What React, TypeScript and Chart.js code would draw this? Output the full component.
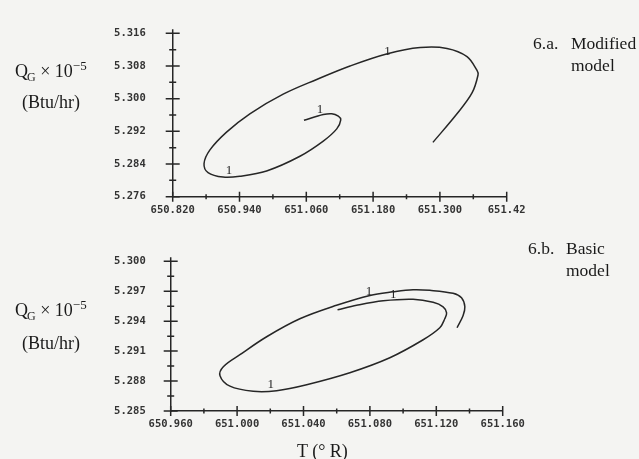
import React, { useEffect, useRef } from 'react';
import { Chart, registerables } from 'chart.js';

Chart.register(...registerables);

// ---------- 6.a. Modified model ----------
const topT = [
  651.2875, 651.3307, 651.3577, 651.3685, 651.3667, 651.3487, 651.3127, 651.2646,
  651.2057, 651.1386, 651.0787, 651.0185, 650.9586, 650.9167, 650.8866, 650.8763,
  650.8835, 650.9105, 650.9406, 650.9887, 651.0486, 651.0905, 651.1147, 651.1219,
  651.1175, 651.1057, 651.0905, 651.0558,
];
const topQ = [
  5.2893, 5.2963, 5.3014, 5.3058, 5.3069, 5.3103, 5.3123, 5.3125,
  5.3110, 5.3080, 5.3047, 5.3011, 5.2963, 5.2918, 5.2874, 5.2841,
  5.2819, 5.2808, 5.2810, 5.2823, 5.2859, 5.2896, 5.2926, 5.2948,
  5.2957, 5.2963, 5.2961, 5.2947,
];
const topMarkT = [651.2057, 651.0846, 650.9213];
const topMarkQ = [5.3116, 5.2974, 5.2824];
const topMarkText = ['1', '1', '1'];

const topXTicks = [650.82, 650.88, 650.94, 651.0, 651.06, 651.12, 651.18, 651.24, 651.3, 651.36, 651.42];
const topXLabels = ['650.820', '', '650.940', '', '651.060', '', '651.180', '', '651.300', '', '651.42'];
const topYTicks = [5.276, 5.28, 5.284, 5.288, 5.292, 5.296, 5.3, 5.304, 5.308, 5.312, 5.316];
const topYLabels = ['5.276', '', '5.284', '', '5.292', '', '5.300', '', '5.308', '', '5.316'];

// ---------- 6.b. Basic model ----------
const botT = [
  651.1325, 651.1361, 651.1372, 651.1352, 651.1301, 651.1161, 651.1060, 651.0940,
  651.0800, 651.0599, 651.0378, 651.0178, 651.0017, 650.9917, 650.9897, 650.9957,
  651.0097, 651.0238, 651.0419, 651.0679, 651.0920, 651.1121, 651.1221, 651.1251,
  651.1262, 651.1241, 651.1181, 651.1060, 651.0880, 651.0720, 651.0605,
];
const botQ = [
  5.29334, 5.29454, 5.29544, 5.29634, 5.29679, 5.29709, 5.29715, 5.29694,
  5.29658, 5.29559, 5.29424, 5.29244, 5.29064, 5.28944, 5.28854, 5.28749,
  5.28698, 5.28704, 5.28764, 5.28884, 5.29034, 5.29214, 5.29334, 5.29424,
  5.29484, 5.29544, 5.29589, 5.29619, 5.29604, 5.29559, 5.29514,
];
const botMarkT = [651.0794, 651.094, 651.0202];
const botMarkQ = [5.2970, 5.2967, 5.28764];
const botMarkText = ['1', '1', '1'];

const botXTicks = [650.96, 650.98, 651.0, 651.02, 651.04, 651.06, 651.08, 651.1, 651.12, 651.14, 651.16];
const botXLabels = ['650.960', '', '651.000', '', '651.040', '', '651.080', '', '651.120', '', '651.160'];
const botYTicks = [5.285, 5.2865, 5.288, 5.2895, 5.291, 5.2925, 5.294, 5.2955, 5.297, 5.2985, 5.3];
const botYLabels = ['5.285', '', '5.288', '', '5.291', '', '5.294', '', '5.297', '', '5.300'];

const INK = '#262626';
const BG = '#f4f4f2';

const crossTicksPlugin = {
  id: 'crossTicks',
  afterDraw(chart: any) {
    const { ctx, chartArea } = chart;
    const xs = chart.scales.x;
    const ys = chart.scales.y;
    ctx.save();
    ctx.strokeStyle = INK;
    ctx.lineWidth = 1.5;
    ctx.beginPath();
    xs.ticks.forEach((t: any, i: number) => {
      const p = xs.getPixelForTick(i);
      const L = t.label ? 5 : 2.5;
      ctx.moveTo(p, chartArea.bottom - L);
      ctx.lineTo(p, chartArea.bottom + L);
    });
    ys.ticks.forEach((t: any, i: number) => {
      const p = ys.getPixelForTick(i);
      const L = t.label ? 7 : 3.5;
      ctx.moveTo(chartArea.left - L, p);
      ctx.lineTo(chartArea.left + L, p);
    });
    // small overshoot of the value axis above its last tick
    ctx.moveTo(chartArea.left, chartArea.top);
    ctx.lineTo(chartArea.left, chartArea.top - 4);
    ctx.stroke();
    ctx.restore();
  },
};

const curveMarksPlugin = {
  id: 'curveMarks',
  afterDatasetsDraw(chart: any, _args: any, opts: any) {
    const { ctx } = chart;
    const xs = chart.scales.x;
    const ys = chart.scales.y;
    ctx.save();
    ctx.font = '13px "Liberation Serif"';
    ctx.fillStyle = INK;
    ctx.textAlign = 'center';
    ctx.textBaseline = 'middle';
    (opts.xs || []).forEach((v: number, i: number) => {
      ctx.fillText(opts.text[i], xs.getPixelForValue(v), ys.getPixelForValue(opts.ys[i]));
    });
    ctx.restore();
  },
};

function makeConfig(p: any) {
  const tickFont = { family: '"DejaVu Sans Mono"', size: 10.5, weight: 'bold' };
  return {
    type: 'scatter',
    data: {
      datasets: [
        {
          data: p.T.map((x: number, i: number) => ({ x, y: p.Q[i] })),
          showLine: true,
          borderColor: INK,
          borderWidth: 1.5,
          pointRadius: 0,
          tension: 0.35,
          fill: false,
        },
      ],
    },
    options: {
      animation: false,
      responsive: false,
      devicePixelRatio: 1,
      events: [],
      layout: { padding: p.padding },
      plugins: {
        legend: { display: false },
        tooltip: { enabled: false },
        curveMarks: { xs: p.markT, ys: p.markQ, text: p.markText },
      },
      scales: {
        x: {
          type: 'linear',
          min: p.xTicks[0],
          max: p.xTicks[p.xTicks.length - 1],
          afterBuildTicks: (s: any) => {
            s.ticks = p.xTicks.map((v: number) => ({ value: v }));
          },
          afterFit: (s: any) => {
            s.height = 20;
          },
          grid: { display: true, drawOnChartArea: false, drawTicks: false },
          border: { display: true, color: INK, width: 1.5 },
          ticks: {
            autoSkip: false,
            maxRotation: 0,
            padding: 7,
            color: '#333333',
            font: tickFont,
            callback: (_v: any, i: number) => p.xLabels[i],
          },
        },
        y: {
          type: 'linear',
          min: p.yTicks[0],
          max: p.yTicks[p.yTicks.length - 1],
          afterBuildTicks: (s: any) => {
            s.ticks = p.yTicks.map((v: number) => ({ value: v }));
          },
          afterFit: (s: any) => {
            s.width = 60;
          },
          grid: { display: true, drawOnChartArea: false, drawTicks: false },
          border: { display: true, color: INK, width: 1.5 },
          ticks: {
            autoSkip: false,
            padding: p.yPad,
            color: '#333333',
            font: tickFont,
            callback: (_v: any, i: number) => p.yLabels[i],
          },
        },
      },
    },
    plugins: [crossTicksPlugin, curveMarksPlugin],
  } as any;
}

const serif = '"Liberation Serif", "Times New Roman", serif';
const textStyle: any = { position: 'absolute', fontFamily: serif, fontSize: 18, color: '#1a1a1a', lineHeight: '22px', whiteSpace: 'nowrap' };

function YTitle({ top, gap }: { top: number; gap: number }) {
  return (
    <>
      <div style={{ ...textStyle, left: 15, top }}>
        Q<span style={{ fontSize: 12, position: 'relative', top: 4, marginLeft: -1 }}>G</span> × 10
        <span style={{ fontSize: 13, position: 'relative', top: -7 }}>−5</span>
      </div>
      <div style={{ ...textStyle, left: 22, top: top + gap }}>(Btu/hr)</div>
    </>
  );
}

export default function App() {
  const topRef = useRef<HTMLCanvasElement>(null);
  const botRef = useRef<HTMLCanvasElement>(null);

  useEffect(() => {
    const top = new Chart(
      topRef.current as HTMLCanvasElement,
      makeConfig({
        T: topT, Q: topQ, markT: topMarkT, markQ: topMarkQ, markText: topMarkText,
        xTicks: topXTicks, xLabels: topXLabels, yTicks: topYTicks, yLabels: topYLabels,
        padding: { left: 112.7, right: 132.3, top: 20.7, bottom: 8.3 },
        yPad: 27,
      })
    );
    const bot = new Chart(
      botRef.current as HTMLCanvasElement,
      makeConfig({
        T: botT, Q: botQ, markT: botMarkT, markQ: botMarkQ, markText: botMarkText,
        xTicks: botXTicks, xLabels: botXLabels, yTicks: botYTicks, yLabels: botYLabels,
        padding: { left: 110.7, right: 136.3, top: 14.3, bottom: 28 },
        yPad: 25,
      })
    );
    return () => {
      top.destroy();
      bot.destroy();
    };
  }, []);

  return (
    <div style={{ position: 'fixed', left: 0, top: 0, width: 639, height: 459, background: BG, overflow: 'hidden' }}>
      <canvas ref={topRef} width={639} height={230} style={{ position: 'absolute', left: 0, top: 0 }} />
      <canvas ref={botRef} width={639} height={229} style={{ position: 'absolute', left: 0, top: 230 }} />

      <YTitle top={60} gap={31} />
      <YTitle top={299} gap={33} />

      <div style={{ ...textStyle, left: 533, top: 32, fontSize: 17.5 }}>6.a.</div>
      <div style={{ ...textStyle, left: 571, top: 32, fontSize: 17.5 }}>Modified</div>
      <div style={{ ...textStyle, left: 571, top: 54, fontSize: 17.5 }}>model</div>

      <div style={{ ...textStyle, left: 528, top: 237, fontSize: 17.5 }}>6.b.</div>
      <div style={{ ...textStyle, left: 566, top: 237, fontSize: 17.5 }}>Basic</div>
      <div style={{ ...textStyle, left: 566, top: 259, fontSize: 17.5 }}>model</div>

      <div style={{ ...textStyle, left: 297, top: 440 }}>T (° R)</div>
    </div>
  );
}
